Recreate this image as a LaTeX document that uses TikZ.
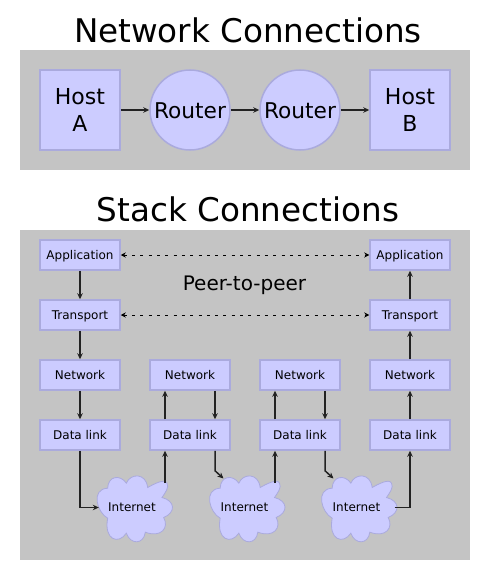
\documentclass[tikz,border=0pt]{standalone}
\usepackage{fontspec}
\setmainfont{DejaVu Sans}
\usetikzlibrary{arrows.meta}
\definecolor{panelgray}{HTML}{C4C4C4}
\definecolor{boxfill}{HTML}{CCCCFF}
\definecolor{boxline}{HTML}{AAAADD}
\definecolor{linedark}{HTML}{222222}

% cloud outline, drawn round the point #2 with its label node #1
\newcommand{\netcloud}[2]{
  \draw[cloud line,shift={(#2)},x=0.3333pt,y=0.3333pt]
    (-73,58) .. controls (-72,95) and (-35,100) .. (-17,73)
    .. controls (-5,103) and (42,105) .. (47,60)
    .. controls (65,70) and (98,88) .. (105,73)
    .. controls (112,60) and (100,45) .. (90,30)
    .. controls (130,20) and (132,-15) .. (95,-30)
    .. controls (112,-60) and (88,-92) .. (40,-74)
    .. controls (35,-112) and (-5,-112) .. (-17,-77)
    .. controls (-40,-112) and (-85,-98) .. (-73,-32)
    .. controls (-105,-15) and (-125,55) .. (-73,58) -- cycle;
  \node[cloud text] (#1) at (#2) {Internet};
}

\begin{document}
\begin{tikzpicture}[x=1pt, y=1pt, node distance=110pt,
                    host node/.style={rectangle,draw=boxline,fill=boxfill,line width=1.5pt,minimum size=80pt,inner sep=0pt,align=center,font=\fontsize{22}{27}\selectfont},
                    router node/.style={circle,draw=boxline,fill=boxfill,line width=1.5pt,minimum size=80pt,inner sep=0pt,text height=16.5pt,text depth=0pt,font=\fontsize{21.7}{27}\selectfont},
                    layer node/.style={rectangle,draw=boxline,fill=boxfill,line width=1.5pt,minimum width=80pt,minimum height=30pt,inner sep=0pt,text height=10pt,text depth=2pt,font=\fontsize{12}{14}\selectfont},
                    cloud line/.style={draw=boxline,fill=boxfill,line width=0.8pt},
                    cloud text/.style={minimum width=66pt,inner sep=0pt,text height=10pt,text depth=2pt,font=\fontsize{12}{14}\selectfont},
                    title node/.style={font=\fontsize{32.6}{36}\selectfont},
                    link/.style={draw=linedark,line width=1.5pt,-{Stealth[length=6pt,width=5.5pt]}},
                    peer/.style={draw=black,line width=0.9pt,dash pattern=on 3pt off 5.3pt,{Stealth[length=5pt,width=5pt]}-{Stealth[length=5pt,width=5pt]}}]

  \useasboundingbox (0,0) rectangle (490,-580);

  \fill[panelgray] (20,-50) rectangle (470,-170);
  \fill[panelgray] (20,-230) rectangle (470,-560);

  \node[title node] (title1) at (248,-30) {Network Connections};
  \node[title node] (title2) at (248,-209) {Stack Connections};

  % top row
  \node[host node] (hosta) at (80,-110) {Host\\A};
  \node[router node] (router1) [right of=hosta] {Router};
  \node[router node] (router2) [right of=router1] {Router};
  \node[host node] (hostb) [right of=router2] {Host\\B};

  \draw[link] (hosta) -- (router1);
  \draw[link] (router1) -- (router2);
  \draw[link] (router2) -- (hostb);

  % left stack
  \node[layer node] (app1) at (80,-255) {Application};
  \node[layer node] (trans1) [below of=app1,node distance=60pt] {Transport};
  \node[layer node] (net1) [below of=trans1,node distance=60pt] {Network};
  \node[layer node] (data1) [below of=net1,node distance=60pt] {Data link};

  % routers
  \node[layer node] (net2) [right of=net1] {Network};
  \node[layer node] (data2) [right of=data1] {Data link};
  \node[layer node] (net3) [right of=net2] {Network};
  \node[layer node] (data3) [right of=data2] {Data link};

  % right stack
  \node[layer node] (net4) [right of=net3] {Network};
  \node[layer node] (data4) [right of=data3] {Data link};
  \node[layer node] (trans4) [above of=net4,node distance=60pt] {Transport};
  \node[layer node] (app4) [above of=trans4,node distance=60pt] {Application};

  \node[font=\fontsize{20}{24}\selectfont] (peerlabel) at (244.5,-285) {Peer-to-peer};

  \netcloud{inet1}{132,-507.5}
  \netcloud{inet2}{244.5,-507.5}
  \netcloud{inet3}{356.5,-507.5}

  \draw[peer] (app1) -- (app4);
  \draw[peer] (trans1) -- (trans4);

  \draw[link] (app1) -- (trans1);
  \draw[link] (trans1) -- (net1);
  \draw[link] (net1) -- (data1);
  \draw[link] (data1) |- (inet1);

  \draw[link] ([xshift=33pt,yshift=24.5pt]inet1.center) -- ([xshift=-25pt]data2.south);
  \draw[link] ([xshift=-25pt]data2.north) -- ([xshift=-25pt]net2.south);
  \draw[link] ([xshift=25pt]net2.south) -- ([xshift=25pt]data2.north);
  \draw[link] ([xshift=25pt]data2.south) -- ++(0,-20) -- ([xshift=-21pt,yshift=29pt]inet2.center);

  \draw[link] ([xshift=30.5pt,yshift=24.5pt]inet2.center) -- ([xshift=-25pt]data3.south);
  \draw[link] ([xshift=-25pt]data3.north) -- ([xshift=-25pt]net3.south);
  \draw[link] ([xshift=25pt]net3.south) -- ([xshift=25pt]data3.north);
  \draw[link] ([xshift=25pt]data3.south) -- ++(0,-20) -- ([xshift=-23pt,yshift=29pt]inet3.center);

  \draw[link] ([xshift=5pt]inet3.east) -| (data4);
  \draw[link] (data4) -- (net4);
  \draw[link] (net4) -- (trans4);
  \draw[link] (trans4) -- (app4);
\end{tikzpicture}
\end{document}
